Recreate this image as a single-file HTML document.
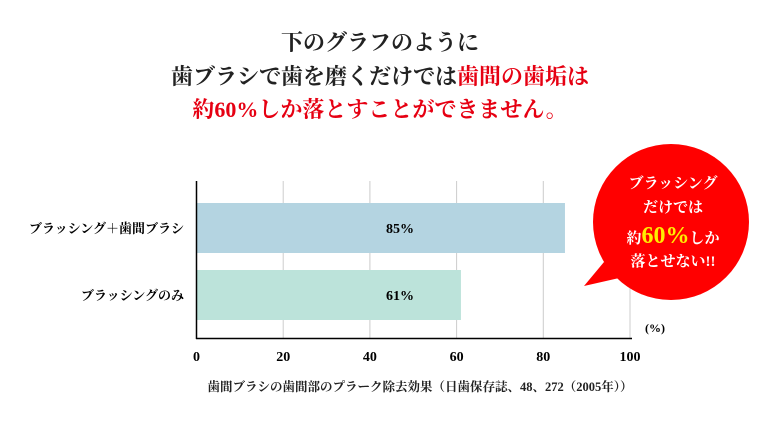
<!DOCTYPE html>
<html><head><meta charset="utf-8"><style>
body{margin:0;background:#fff;}
svg text{font-family:"Liberation Serif","Noto Serif CJK JP",serif;font-weight:bold;}
</style></head><body>
<svg width="760" height="419" viewBox="0 0 760 419">
<g text-anchor="middle" font-size="22">
<text x="380" y="50" fill="#222">下のグラフのように</text>
<text x="380" y="84" fill="#222">歯ブラシで歯を磨くだけでは<tspan fill="#e60012">歯間の歯垢は</tspan></text>
<text x="380" y="117" fill="#e60012">約60%しか落とすことができません。</text>
</g>
<g id="grid"></g>
<g id="bars"></g>
<line x1="196.5" y1="181" x2="196.5" y2="339" stroke="#000" stroke-width="1.5"/>
<line x1="196" y1="338.5" x2="632" y2="338.5" stroke="#000" stroke-width="1.5"/>
<g id="ticks" font-size="14" text-anchor="middle"></g>
<text x="655" y="332" font-size="12" text-anchor="middle">(%)</text>
<text x="420" y="391" font-size="12.5" text-anchor="middle" fill="#222">歯間ブラシの歯間部のプラーク除去効果（日歯保存誌、48、272（2005年））</text>
<g>
<path d="M604,262 L584,286 L628,276 Z" fill="#f00"/>
<circle cx="671" cy="222" r="78" fill="#f00"/>
<g text-anchor="middle" fill="#fff" font-size="15">
<text x="673" y="188">ブラッシング</text>
<text x="673" y="212">だけでは</text>
<text x="673" y="243"><tspan>約</tspan><tspan fill="#ffee00" font-size="24">60%</tspan><tspan>しか</tspan></text>
<text x="673" y="266">落とせない!!</text>
</g>
</g>
</svg>
<script>
const categories=["ブラッシング＋歯間ブラシ","ブラッシングのみ"];
const values=[85,61];
const valueLabels=["85%","61%"];
const ticks=[0,20,40,60,80,100];
const x0=196.5,x1=630,ns="http://www.w3.org/2000/svg";
const xs=v=>x0+(x1-x0)*v/100;
const colors=["#b4d4e1","#bce3da"];
const grid=document.getElementById('grid'),bars=document.getElementById('bars'),tk=document.getElementById('ticks');
ticks.forEach(t=>{
 if(t>0){const l=document.createElementNS(ns,'line');
 l.setAttribute('x1',xs(t));l.setAttribute('x2',xs(t));l.setAttribute('y1',181);l.setAttribute('y2',338);
 l.setAttribute('stroke','#ccc');l.setAttribute('stroke-width','1');
 
 
 grid.appendChild(l);}
 const tx=document.createElementNS(ns,'text');
 tx.setAttribute('x',xs(t));tx.setAttribute('y',361);tx.textContent=t;
 
 
 tk.appendChild(tx);
});
categories.forEach((c,i)=>{
 const y=203+i*67;
 const r=document.createElementNS(ns,'rect');
 r.setAttribute('x',x0);r.setAttribute('y',y);r.setAttribute('width',xs(values[i])-x0);r.setAttribute('height',50);
 r.setAttribute('fill',colors[i]);
 
 
 bars.appendChild(r);
 const lb=document.createElementNS(ns,'text');
 lb.setAttribute('x',400);lb.setAttribute('y',y+30);lb.setAttribute('font-size','14');lb.setAttribute('text-anchor','middle');
 lb.textContent=valueLabels[i];
 
 
 bars.appendChild(lb);
 const cl=document.createElementNS(ns,'text');
 cl.setAttribute('x',184);cl.setAttribute('y',y+30);cl.setAttribute('font-size','13');cl.setAttribute('text-anchor','end');
 cl.textContent=c;
 
 
 bars.appendChild(cl);
});
</script>
</body></html>
